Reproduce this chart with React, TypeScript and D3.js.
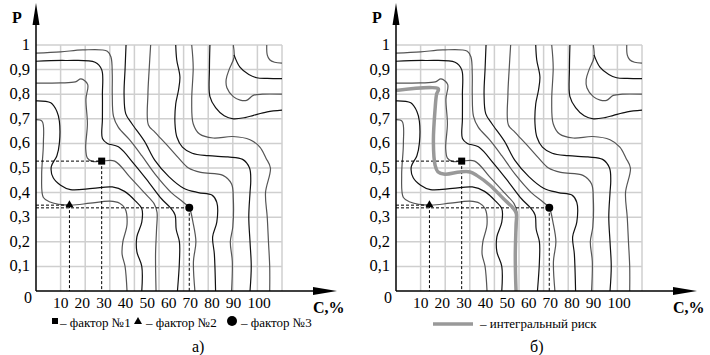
import React from 'react';
import * as d3 from 'd3';

type Pt = [number, number];

// axis ticks
const cTicks = [10, 20, 30, 40, 50, 60, 70, 80, 90, 100];
const pTicks = [0.1, 0.2, 0.3, 0.4, 0.5, 0.6, 0.7, 0.8, 0.9, 1];
const pLabels = ['0,1', '0,2', '0,3', '0,4', '0,5', '0,6', '0,7', '0,8', '0,9', '1'];

// contour lines [C, P]
const lineD: Pt[] = [[0,0.697],[2.5,0.69],[3,0.6],[2.3,0.47],[3,0.38],[5.7,0.362],[13.8,0.349],[22,0.357],[30,0.365],[34,0.357],[36.2,0.335],[37,0.27],[35.3,0.2],[35,0.15],[36.2,0.1],[37,0]];
const lineC: Pt[] = [[0,0.773],[6,0.765],[8.5,0.73],[9.5,0.69],[9.5,0.6],[8.5,0.55],[6.2,0.505],[7,0.46],[10,0.43],[14,0.412],[23,0.417],[31,0.423],[36,0.405],[40.7,0.363],[43,0.335],[43,0.28],[41,0.22],[41,0.16],[43,0.1],[43,0]];
const lineB: Pt[] = [[0,0.845],[10,0.846],[16,0.85],[18.3,0.862],[21,0.84],[20.3,0.78],[20.9,0.68],[20.2,0.58],[20.9,0.54],[22.9,0.527],[26.7,0.528],[32,0.528],[38,0.465],[44,0.4],[48,0.355],[49.2,0.32],[49,0.25],[48.6,0.15],[48.8,0]];
const lineL2: Pt[] = [[0,0.934],[12,0.937],[24,0.93],[26.7,0.9],[27,0.8],[27,0.7],[27,0.62],[29,0.6],[33.5,0.586],[40,0.515],[46,0.44],[51,0.375],[54.5,0.34],[56.5,0.31],[57,0.25],[58.3,0.2],[58.3,0.12],[57.5,0]];
const lineL1: Pt[] = [[0,0.967],[10,0.972],[19,0.98],[29,0.975],[30.5,0.95],[31,0.88],[31,0.8],[31.5,0.71],[33.5,0.665],[38,0.615],[43,0.55],[48.4,0.475],[55,0.4],[60,0.36],[62.3,0.338],[63.8,0.28],[65,0.2],[64,0.12],[64.6,0]];
const lineT1: Pt[] = [[36.6,1],[36.2,0.9],[35.8,0.8],[36.5,0.72],[39,0.68],[44,0.61],[48.4,0.53],[54,0.465],[60,0.418],[66,0.4],[71.5,0.39],[73.5,0.36],[73.5,0.28],[71.8,0.22],[72.5,0.15],[73,0]];
const lineT2: Pt[] = [[46.6,1],[46,0.9],[45.5,0.8],[45.7,0.675],[48.4,0.645],[54,0.585],[58,0.54],[62,0.5],[67,0.482],[76,0.47],[79.5,0.435],[80.2,0.376],[80,0.26],[79,0.2],[79.8,0.12],[79.5,0]];
const lineT3: Pt[] = [[56.8,1],[57.2,0.94],[58.5,0.87],[57.9,0.815],[56.8,0.76],[56.5,0.68],[57.3,0.625],[59.5,0.585],[63.5,0.56],[70,0.55],[78,0.545],[84,0.535],[86.8,0.5],[87.3,0.45],[87,0.4],[86.5,0.3],[87,0.2],[87.5,0.1],[87,0]];
const lineT4: Pt[] = [[63.3,1],[63.9,0.91],[63.3,0.775],[63.9,0.68],[66.5,0.638],[72,0.622],[80,0.628],[87,0.615],[91,0.585],[93.5,0.54],[95.3,0.5],[93.3,0.4],[94,0.3],[94.5,0.2],[95,0.1],[95,0]];
const lineT5: Pt[] = [[70.7,1],[70.5,0.9],[70.7,0.79],[73,0.745],[76.5,0.712],[80.2,0.7],[85,0.705],[88.4,0.714],[94,0.728],[100,0.735]];
const lineT6: Pt[] = [[80.2,1],[80.5,0.95],[78.5,0.9],[77.3,0.86],[77.6,0.826],[80.2,0.79],[83,0.776],[85.6,0.775],[88.3,0.795],[92,0.8],[100,0.8]];
const lineT7: Pt[] = [[80.5,0.96],[82.9,0.91],[86.5,0.88],[89.7,0.867],[94,0.864],[100,0.863]];
const lineT8: Pt[] = [[93.8,1],[94,0.96],[95,0.94],[97,0.93],[100,0.926]];

const contours = [lineD, lineC, lineB, lineL2, lineL1, lineT1, lineT2, lineT3, lineT4, lineT5, lineT6, lineT7, lineT8];

// factors
const factor1: Pt = [26.7, 0.528];
const factor2: Pt = [13.6, 0.349];
const factor3: Pt = [62.3, 0.338];

// integral risk (panel б)
const integralRisk: Pt[] = [[0,0.815],[17.2,0.822],[16.5,0.8],[15.9,0.741],[15.2,0.606],[15.9,0.511],[17,0.485],[19.9,0.475],[26,0.484],[30.1,0.484],[32.8,0.47],[38.2,0.43],[43.6,0.376],[47.5,0.338],[48.9,0.315],[48.8,0.268],[48.5,0.15],[48.6,0.065],[48.8,0]];

const x = d3.scaleLinear().domain([0, 100]).range([36, 282]);
const y = d3.scaleLinear().domain([0, 1]).range([291, 45]);
const labelX = d3.scaleLinear().domain([10, 100]).range([53, 247.4]);

const path = d3.line<Pt>().x(d => x(d[0])).y(d => y(d[1])).curve(d3.curveCatmullRom.alpha(0.5));
const serif = { fontFamily: "'Liberation Serif', 'DejaVu Serif', serif" };

const Panel = ({ dx, integral }: { dx: number; integral: boolean }) => (
  <g transform={`translate(${dx},0)`}>
    {cTicks.map(c => (
      <line key={'gx' + c} x1={x(c)} x2={x(c)} y1={y(0)} y2={y(1)} stroke="#cfcfcf" strokeWidth={1.5} />
    ))}
    {pTicks.map(p => (
      <line key={'gy' + p} x1={x(0)} x2={x(100)} y1={y(p)} y2={y(p)} stroke="#cfcfcf" strokeWidth={1.5} />
    ))}
    {contours.map((l, i) => (
      <path key={'c' + i} d={path(l) || ''} fill="none" stroke={i % 2 ? '#111' : '#555'} strokeWidth={1.2} />
    ))}
    {/* dashed projections */}
    <g stroke="#000" strokeWidth={1} strokeDasharray="3,2" fill="none">
      <line x1={x(0)} x2={x(factor1[0])} y1={y(factor1[1])} y2={y(factor1[1])} />
      <line x1={x(factor1[0])} x2={x(factor1[0])} y1={y(factor1[1])} y2={y(0)} />
      <line x1={x(0)} x2={x(factor2[0])} y1={y(factor2[1])} y2={y(factor2[1])} />
      <line x1={x(factor2[0])} x2={x(factor2[0])} y1={y(factor2[1])} y2={y(0)} />
      <line x1={x(0)} x2={x(factor3[0])} y1={y(factor3[1])} y2={y(factor3[1])} />
      <line x1={x(factor3[0])} x2={x(factor3[0])} y1={y(factor3[1])} y2={y(0)} />
    </g>
    {integral && (
      <path d={path(integralRisk) || ''} fill="none" stroke="#999" strokeWidth={3.5} />
    )}
    <rect x={x(factor1[0]) - 3.5} y={y(factor1[1]) - 3.5} width={7} height={7} fill="#000" />
    <path d={`M${x(factor2[0])},${y(factor2[1]) - 5}l4,7h-8z`} fill="#000" />
    <circle cx={x(factor3[0])} cy={y(factor3[1])} r={4} fill="#000" />
    {/* axes */}
    <line x1={x(0)} x2={x(0)} y1={y(0)} y2={12} stroke="#000" strokeWidth={1.5} />
    <path d={`M${x(0)},3l3.5,22h-7z`} fill="#000" />
    <line x1={x(0)} x2={320} y1={y(0)} y2={y(0)} stroke="#000" strokeWidth={1.5} />
    <path d={`M337,${y(0)}l-24,-4v8z`} fill="#000" />
    <text x={12} y={23} fontSize={16} fontWeight="bold" style={serif}>P</text>
    {pTicks.map((p, i) => (
      <text key={'yl' + p} x={30} y={y(p) + 5} fontSize={16.5} textAnchor="end" style={serif}>{pLabels[i]}</text>
    ))}
    <text x={24} y={303} fontSize={16} style={serif}>0</text>
    {cTicks.map(c => (
      <text key={'xl' + c} x={labelX(c)} y={308} fontSize={15.5} style={serif}>{c}</text>
    ))}
    <text x={313} y={313} fontSize={16} fontWeight="bold" style={serif}>C,%</text>
  </g>
);

export default () => (
  <svg width={710} height={355} style={{ position: 'absolute', left: 0, top: 0, background: '#fff' }}>
    <Panel dx={0} integral={false} />
    <Panel dx={360} integral={true} />
    <g fontSize={13} style={serif}>
      <rect x={52} y={318} width={6} height={6} fill="#000" />
      <text x={60} y={327}>– фактор №1</text>
      <path d="M138,317l4,7h-8z" fill="#000" />
      <text x={146} y={327}>– фактор №2</text>
      <circle cx={232} cy={321} r={5} fill="#000" />
      <text x={241} y={327}>– фактор №3</text>
      <line x1={433} x2={473} y1={324} y2={324} stroke="#999" strokeWidth={3.5} />
      <text x={480} y={328}>– интегральный риск</text>
      <text x={192} y={352} fontSize={16}>а)</text>
      <text x={530} y={352} fontSize={16}>б)</text>
    </g>
  </svg>
);
